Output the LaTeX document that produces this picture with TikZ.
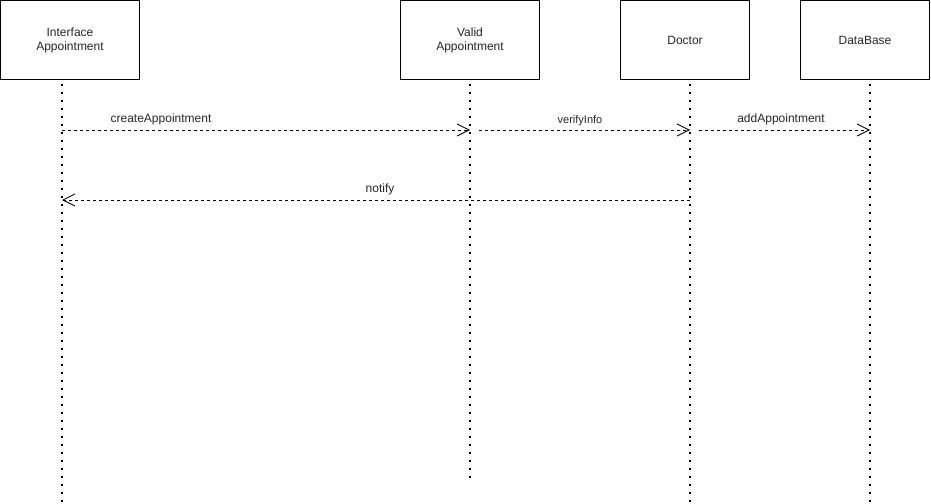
\documentclass[tikz,border=0pt]{standalone}
\usepackage{fontspec}
\setmainfont{Liberation Sans}
\usetikzlibrary{arrows.meta}
\tikzset{
  actor/.style={draw=black, line width=1pt, fill=white, inner sep=0pt, align=center,
    font=\fontsize{12}{14}\selectfont, text=black!85},
  lifeline/.style={black, line width=1.6pt, dash pattern=on 1.6pt off 6.4pt},
  msg/.style={line width=0.8pt, dash pattern=on 3pt off 3pt,
    -{Straight Barb[length=12pt,width=12pt,line width=0.8pt]}},
  msglabel/.style={font=\fontsize{12}{14}\selectfont, inner sep=0pt, text=black!85},
  msglabelsmall/.style={font=\fontsize{11}{13}\selectfont, inner sep=0pt, text=black!85}
}
\begin{document}
\begin{tikzpicture}[x=1pt,y=-1pt]
\useasboundingbox (0,0) rectangle (931,503);
\fill[white] (0,0) rectangle (931,503);
% actors
\node[actor, minimum width=139pt, minimum height=79pt] (ia) at (70,40) {Interface\\Appointment};
\node[actor, minimum width=139pt, minimum height=79pt] (va) at (470,40) {Valid\\Appointment};
\node[actor, minimum width=129pt, minimum height=79pt] (doc) at (685,40) {Doctor};
\node[actor, minimum width=129pt, minimum height=79pt] (db) at (865,40) {DataBase};
% lifeline coordinates
\coordinate (iaT) at (62,84);  \coordinate (iaB) at (62,503);
\coordinate (vaT) at (470,84); \coordinate (vaB) at (470,481);
\coordinate (docT) at (690,84); \coordinate (docB) at (690,503);
\coordinate (dbT) at (870,84);  \coordinate (dbB) at (870,503);
\draw[lifeline] (iaT) -- (iaB);
\draw[lifeline] (vaT) -- (vaB);
\draw[lifeline] (docT) -- (docB);
\draw[lifeline] (dbT) -- (dbB);
% message anchors
\coordinate (m1s) at (62,130);  \coordinate (m1e) at (470,130);
\coordinate (m2s) at (479,130); \coordinate (m2e) at (690,130);
\coordinate (m3s) at (699,130); \coordinate (m3e) at (870,130);
\coordinate (m4s) at (690,200); \coordinate (m4e) at (62,200);
\draw[msg] (m1s) -- (m1e);
\draw[msg] (m2s) -- (m2e);
\draw[msg] (m3s) -- (m3e);
\draw[msg] (m4s) -- (m4e);
% labels
\node[msglabel] (l1) at (161,119) {createAppointment};
\node[msglabelsmall] (l2) at (580,121) {verifyInfo};
\node[msglabel] (l3) at (781,119) {addAppointment};
\node[msglabel] (l4) at (380,189) {notify};
\end{tikzpicture}
\end{document}
